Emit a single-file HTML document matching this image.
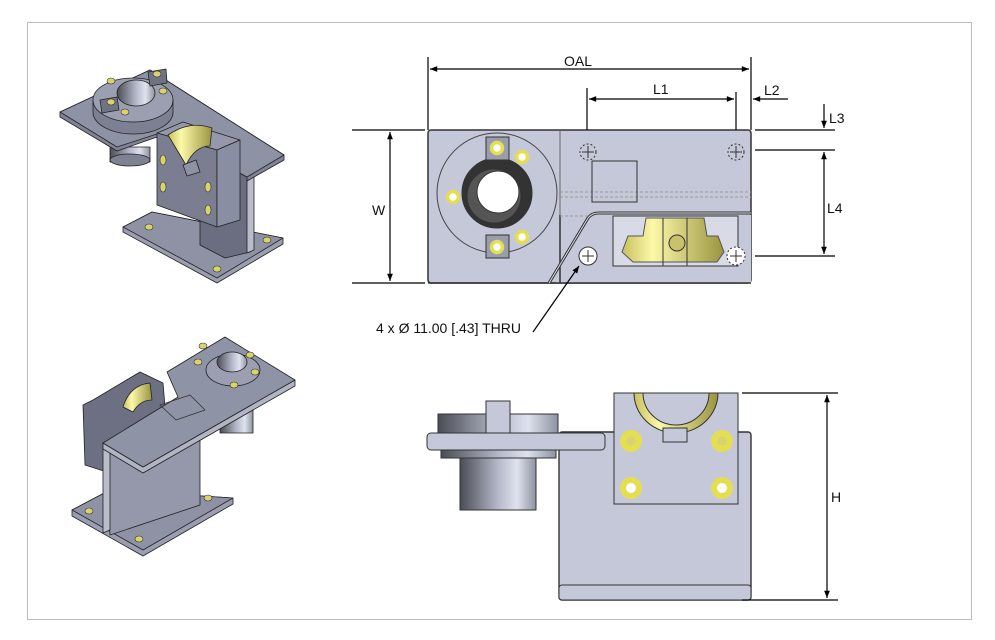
<!DOCTYPE html>
<html><head><meta charset="utf-8"><style>
html,body{margin:0;padding:0;background:#fff;}
svg{display:block;}
text{font-family:"Liberation Sans",sans-serif;fill:#111;}
</style></head><body>
<svg width="995" height="640" viewBox="0 0 995 640" xmlns="http://www.w3.org/2000/svg">
<defs>
<linearGradient id="cyl" x1="0" x2="1" y1="0" y2="0">
<stop offset="0" stop-color="#4a4d55"/><stop offset="0.5" stop-color="#b4b8c8"/><stop offset="0.75" stop-color="#dfe2ee"/><stop offset="1" stop-color="#8e92a0"/></linearGradient>
<linearGradient id="yel" x1="0" x2="1"><stop offset="0" stop-color="#c8c060"/><stop offset="0.3" stop-color="#fbf8a8"/><stop offset="1" stop-color="#9a9440"/></linearGradient>
<marker id="ar" viewBox="0 0 10 10" refX="10" refY="5" markerWidth="8" markerHeight="6" orient="auto-start-reverse"><path d="M0,1 L10,5 L0,9 z" fill="#000"/></marker>
</defs>
<rect x="27.5" y="22.5" width="944" height="597" fill="#fff" stroke="#bdbdbd"/>

<!-- ISO TOP -->
<g stroke="#222" stroke-width="0.8" stroke-linejoin="round">
<polygon points="123,227 152,212 283,238 283,244 217,283 123,232" fill="#9a9eb0"/>
<polygon points="123,227 152,212 283,238 217,278" fill="#8e92a4"/>
<polygon points="200,150 250,177 250,252 225,258 200,245" fill="#6a6e80"/>
<polygon points="247,178 254,175 254,250 247,253" fill="#b8bccb"/>
<polygon points="110,147 150,147 150,162 110,162" fill="url(#cyl)"/>
<ellipse cx="130" cy="160" rx="20" ry="6" fill="#7e8292"/>
<polygon points="60,112 150,70 284,155 284,160 247,181 247,177 200,152 160,136 117,151 60,117" fill="#7f8395"/>
<polygon points="60,112 150,70 284,155 247,177 200,152 160,133 117,147" fill="#8e92a5"/>
<path d="M93,100 v12 a40,22 0 0 0 80,0 v-12" fill="#7c8092"/>
<ellipse cx="133" cy="100" rx="40" ry="22" fill="#9b9fb1"/>
<ellipse cx="136" cy="93" rx="19" ry="13" fill="url(#cyl)"/>
<polygon points="100,100 117,97 119,110 102,113" fill="#6f7384"/>
<polygon points="148,72 166,69 167,83 150,86" fill="#6f7384"/>
<polygon points="157,133 183,122 240,140 217,150" fill="#9498aa"/>
<polygon points="157,133 217,150 217,227 157,205" fill="#7a7e90"/>
<polygon points="217,150 240,140 240,220 217,227" fill="#8a8ea2"/>
<path d="M168,135 Q190,120 212,128 L210,146 Q195,146 186,165 Z" fill="url(#yel)"/>
<polygon points="183,165 196,160 200,172 187,176" fill="#8e92a5"/>
</g>
<g fill="#d8d36a" stroke="#333" stroke-width="0.6">
<ellipse cx="111" cy="81" rx="4" ry="3"/><ellipse cx="157" cy="74" rx="4" ry="3"/><ellipse cx="163" cy="91" rx="4" ry="3"/><ellipse cx="111" cy="102" rx="4" ry="3"/><ellipse cx="125" cy="112" rx="4" ry="3"/>
<ellipse cx="163" cy="160" rx="3" ry="5"/><ellipse cx="163" cy="187" rx="3" ry="5"/><ellipse cx="208" cy="187" rx="3" ry="5"/><ellipse cx="208" cy="210" rx="3" ry="5"/>
<ellipse cx="149" cy="227" rx="4" ry="3"/><ellipse cx="267" cy="240" rx="4" ry="3"/><ellipse cx="217" cy="269" rx="4" ry="3"/>
</g>

<!-- ISO BOTTOM -->
<g stroke="#222" stroke-width="0.8" stroke-linejoin="round">
<polygon points="72,510 110,490 233,498 233,504 143,556 72,516" fill="#9a9eb0"/>
<polygon points="72,510 110,490 233,498 143,550" fill="#8e92a4"/>
<polygon points="83,405 93,400 140,372 163,383 167,430 110,473 85,465" fill="#6c7082"/>
<path d="M123,407 Q130,385 150,383 L152,400 Q140,400 133,412 Z" fill="url(#yel)"/>
<rect x="220" y="400" width="33" height="33" fill="url(#cyl)"/>
<polygon points="103,443 200,413 200,505 110,535" fill="#9498aa"/>
<polygon points="103,443 110,440 110,530 103,533" fill="#b8bccb"/>
<polygon points="103,443 143,467 295,380 295,386 143,473 103,449" fill="#b0b4c4"/>
<polygon points="103,443 143,467 295,380 225,337 167,372 178,397" fill="#8f93a6"/>
<ellipse cx="233" cy="370" rx="27" ry="16" fill="#9b9fb1"/>
<ellipse cx="232" cy="362" rx="15" ry="10" fill="url(#cyl)"/>
<polygon points="160,405 190,395 205,410 176,420" fill="none" stroke="#333"/>
</g>
<g fill="#d8d36a" stroke="#333" stroke-width="0.6">
<ellipse cx="203" cy="346" rx="4" ry="3"/><ellipse cx="250" cy="355" rx="4" ry="3"/><ellipse cx="198" cy="362" rx="4" ry="3"/><ellipse cx="255" cy="372" rx="4" ry="3"/><ellipse cx="234" cy="385" rx="4" ry="3"/>
<ellipse cx="89" cy="511" rx="4" ry="3"/><ellipse cx="208" cy="498" rx="4" ry="3"/><ellipse cx="139" cy="539" rx="4" ry="3"/>
</g>

<!-- TOP VIEW -->
<g stroke="#333" stroke-width="1">
<rect x="428" y="130" width="323" height="153" rx="3" fill="#c5c8d8" stroke-width="1.5"/>
<path d="M560,130 V283" stroke="#666"/>
<rect x="556" y="215" width="195" height="68" fill="#c5c8d8" stroke="none"/>
<path d="M560,215 V283 M428,283 H751" fill="none" stroke-width="1.5"/>
<path d="M549,283 L588,218 Q592,213 598,213 H751" fill="none" stroke="#333" stroke-width="3"/>
<path d="M549,283 L588,218 Q592,213 598,213 H751" fill="none" stroke="#d8dbe6" stroke-width="1"/>
<path d="M560,192 H751 M560,197 H751 M560,216 H588" stroke="#999" stroke-dasharray="3,2" fill="none"/>
<rect x="592" y="161" width="45" height="41" fill="none"/>
<circle cx="497" cy="193" r="60" fill="none" stroke="#444"/>
<circle cx="497" cy="193" r="35" fill="#333"/>
<circle cx="494" cy="196" r="27" fill="#555"/>
<circle cx="498" cy="192" r="21" fill="#fff"/>
<rect x="486" y="137" width="23" height="23" fill="#9a9eac"/>
<rect x="486" y="235" width="23" height="23" fill="#9a9eac"/>
<rect x="613" y="216" width="125" height="50" fill="#d8dbe6"/>
<path d="M646,218 L643,236 H628 L622,252 L633,262 H717 L724,252 L718,236 H707 L704,218 Z" fill="url(#yel)" stroke="#555"/>
<path d="M663,218 V266 M687,218 V266 M613,266 H738" fill="none"/>
<circle cx="677" cy="243" r="8" fill="#c8c26a"/>
<circle cx="588" cy="256" r="9" fill="#fff"/>
<circle cx="736" cy="256" r="9" fill="#fff" stroke-dasharray="2,2"/>
<circle cx="588" cy="152" r="8" fill="none" stroke-dasharray="2,2"/>
<circle cx="736" cy="152" r="8" fill="none" stroke-dasharray="2,2"/>
<path d="M582,256h12M588,250v12 M730,256h12M736,250v12 M582,152h12M588,146v12 M730,152h12M736,146v12" fill="none"/>
</g>
<g fill="#fff" stroke="#e3df50" stroke-width="3.5">
<circle cx="497" cy="148" r="5.5"/><circle cx="497" cy="247" r="5.5"/><circle cx="522" cy="157" r="5.5"/><circle cx="453" cy="197" r="5.5"/><circle cx="522" cy="237" r="5.5"/>
</g>

<!-- FRONT VIEW -->
<g stroke="#333" stroke-width="1">
<rect x="559" y="432" width="192" height="168" rx="3" fill="#c5c8d8" stroke-width="1.4"/>
<rect x="559" y="585" width="192" height="15" rx="3" fill="#c5c8d8"/>
<rect x="460" y="458" width="76" height="52" fill="url(#cyl)"/>
<rect x="441" y="449" width="115" height="9" fill="url(#cyl)"/>
<rect x="438" y="414" width="120" height="19" fill="url(#cyl)"/>
<rect x="486" y="401" width="24" height="32" fill="#c5c8d8"/>
<rect x="427" y="433" width="178" height="17" rx="4" fill="#c5c8d8"/>
<rect x="614" y="393" width="124" height="111" fill="#c5c8d8"/>
<path d="M634,393 A42,40 0 0 0 718,393 H709 A33,32 0 0 1 643,393 Z" fill="url(#yel)"/>
<rect x="663" y="428" width="24" height="14" fill="#c5c8d8"/>
</g>
<g fill="#fff" stroke="#e3df50" stroke-width="6">
<circle cx="631" cy="441" r="8"/><circle cx="722" cy="441" r="8"/><circle cx="631" cy="488" r="8"/><circle cx="722" cy="488" r="8"/>
</g>
<g fill="#d8d36a" stroke="none"><circle cx="631" cy="441" r="5"/><circle cx="722" cy="441" r="5"/></g>

<!-- DIMENSIONS -->
<g stroke="#000" stroke-width="1.2" fill="none">
<path d="M428,57V130 M751,57V130 M587,88V130 M736,92V130"/>
<path d="M430,69H749" marker-start="url(#ar)" marker-end="url(#ar)"/>
<path d="M589,99H734" marker-start="url(#ar)" marker-end="url(#ar)"/>
<path d="M788,99H753" marker-end="url(#ar)"/>
<path d="M755,130H835 M755,150H835 M755,256H835"/>
<path d="M824,104V128" marker-end="url(#ar)"/>
<path d="M824,152V254" marker-start="url(#ar)" marker-end="url(#ar)"/>
<path d="M352,130H425 M352,283H425"/>
<path d="M390,132V281" marker-start="url(#ar)" marker-end="url(#ar)"/>
<path d="M742,393H838 M742,600H838"/>
<path d="M827,395V598" marker-start="url(#ar)" marker-end="url(#ar)"/>
<path d="M533,332L579,266" marker-end="url(#ar)"/>
</g>
<g font-size="14">
<text x="564" y="66">OAL</text>
<text x="653" y="94">L1</text>
<text x="764" y="95">L2</text>
<text x="829" y="123">L3</text>
<text x="827" y="213">L4</text>
<text x="372" y="215">W</text>
<text x="831" y="502">H</text>
<text x="376" y="333">4 x Ø 11.00 [.43] THRU</text>
</g>
</svg>
</body></html>
